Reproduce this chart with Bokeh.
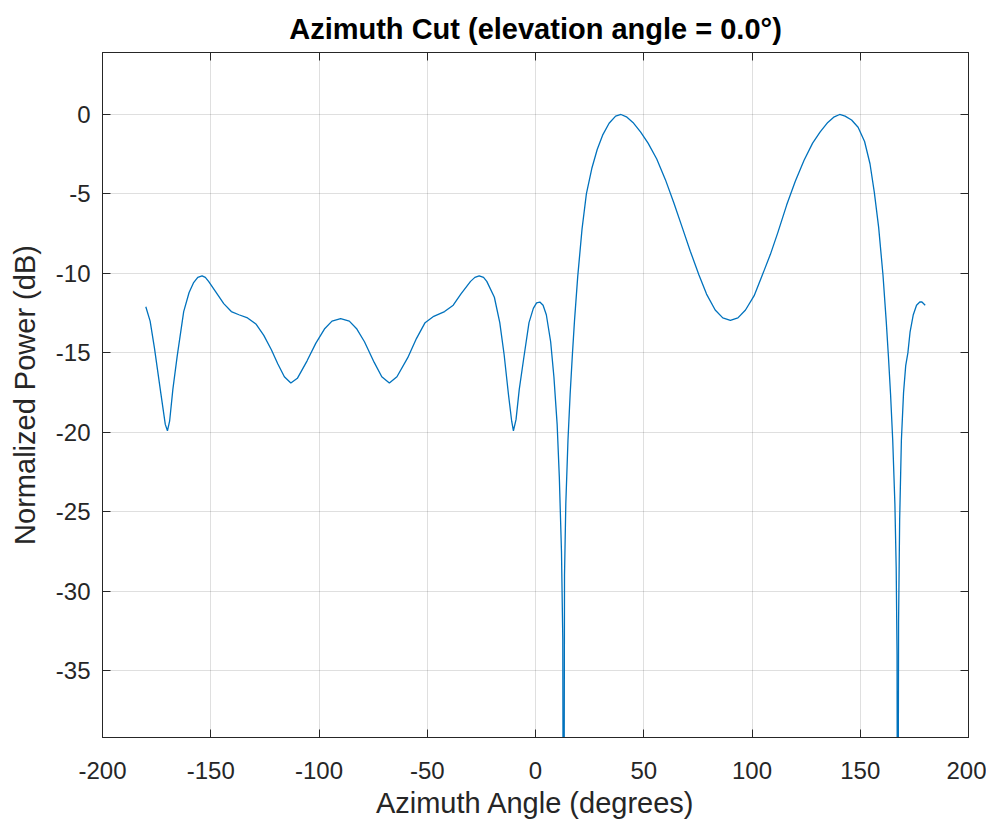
from bokeh.plotting import figure
from bokeh.models import Range1d, LinearAxis, FixedTicker, ColumnDataSource
from bokeh.embed import file_html
from bokeh.resources import INLINE

# Azimuth angle (degrees) and normalized power (dB)
azimuth = [
    -180, -178, -176, -173, -171, -170, -169, -167.5, -165.5, -162.5, -160, -158,
    -156, -154, -152.5, -151, -148, -144, -140.5, -137, -133, -129, -125.5, -122, -119, -116,
    -113, -110, -105.5, -101.5, -97.5, -94, -90, -86, -82.5, -79, -74.5, -71,
    -67.5, -64, -59, -55, -51, -47, -42, -38, -34.5, -30, -28, -26, -24, -22.5, -19, -16.5,
    -14.5, -12.5, -11, -10.2, -9, -7.5, -5.5, -3, -1, 0.5, 2, 3.5, 5, 7, 8.5, 10,
    11, 12, 12.6, 13.0, 13.4, 14, 15, 16, 17, 18, 19.5, 21.5, 23.5, 26, 28.5, 31, 34,
    37, 39.5, 42, 45, 48.5, 52, 56, 60, 64, 68, 71.5, 75.5, 79, 83, 86.5, 90,
    93.5, 97, 101, 104.5, 108.5, 112, 116, 120, 124, 128, 131.5, 135, 138, 140.5,
    143, 146, 149, 152, 154.5, 156.5, 158.5, 160.5, 162, 163, 164, 165, 166, 166.6,
    167.0, 167.3, 167.7, 168.2, 169, 170, 171, 172, 173, 174.5, 176, 177.5, 178.5, 180,
]
power_db = [
    -12.1, -13.0, -14.7, -17.6, -19.5, -19.9, -19.3, -17.3, -15.2, -12.4, -11.2, -10.6,
    -10.25, -10.15, -10.25, -10.5, -11.1, -11.9, -12.4, -12.6, -12.8, -13.2, -13.9, -14.8, -15.7, -16.5,
    -16.9, -16.6, -15.5, -14.4, -13.5, -13.0, -12.85, -13.0, -13.5, -14.3, -15.6, -16.5,
    -16.9, -16.5, -15.3, -14.1, -13.1, -12.7, -12.4, -12.0, -11.3, -10.5, -10.25, -10.15, -10.25, -10.5, -11.5, -13.1,
    -15.1, -17.6, -19.3, -19.9, -19.2, -17.3, -15.4, -13.1, -12.2, -11.85, -11.8, -12.0, -12.6, -14.3, -16.5, -19.5,
    -22.8, -27.5, -33.0, -60.0, -29.0, -24.5, -20.5, -17.6, -15.2, -13.0, -10.2, -7.2, -5.0, -3.4, -2.2, -1.3, -0.55,
    -0.1, 0.0, -0.15, -0.5, -1.1, -1.8, -2.8, -4.1, -5.6, -7.2, -8.6, -10.1, -11.3, -12.3, -12.8, -12.95,
    -12.8, -12.3, -11.4, -10.2, -8.8, -7.4, -5.7, -4.2, -2.9, -1.8, -1.1, -0.5, -0.15, 0.0,
    -0.1, -0.35, -0.8, -1.7, -3.1, -4.9, -7.1, -10.1, -13.0, -15.2, -17.6, -20.5, -24.5, -28.5,
    -34.0, -60.0, -32.0, -25.5, -20.5, -17.5, -15.8, -15.0, -13.7, -12.6, -12.0, -11.8, -11.8, -12.0,
]

x_ticks = [-200, -150, -100, -50, 0, 50, 100, 150, 200]
y_ticks = [-35, -30, -25, -20, -15, -10, -5, 0]

title_text = "Azimuth Cut (elevation angle = 0.0°)"
x_label = "Azimuth Angle (degrees)"
y_label = "Normalized Power (dB)"

AX = "#262626"
FONT = "Liberation Sans"

p = figure(
    output_backend="svg", toolbar_location=None,
    frame_width=866, frame_height=685,
    min_border_left=102, min_border_right=18, min_border_top=52, min_border_bottom=69,
    x_range=Range1d(-200, 200), y_range=Range1d(-39.2, 3.9),
    title=title_text,
)
p.background_fill_color = "white"
p.border_fill_color = "white"
p.outline_line_color = AX
p.outline_line_width = 1

p.title.align = "center"
p.title.text_font = FONT
p.title.text_font_size = "29px"
p.title.text_font_style = "bold"
p.title.text_color = "#000000"
p.title.standoff = 15

src = ColumnDataSource(dict(az=azimuth, pw=power_db))
p.line("az", "pw", source=src, line_color="#0072BD", line_width=1.3)

for ax, ticks in ((p.xaxis[0], x_ticks), (p.yaxis[0], y_ticks)):
    ax.ticker = FixedTicker(ticks=ticks)
    ax.major_label_overrides = {t: str(t) for t in ticks}
    ax.axis_line_color = AX
    ax.major_tick_line_color = AX
    ax.major_tick_in = 8
    ax.major_tick_out = 0
    ax.minor_tick_line_color = None
    ax.major_label_text_font = FONT
    ax.major_label_text_font_size = "24px"
    ax.major_label_text_color = AX
    ax.axis_label_text_font = FONT
    ax.axis_label_text_font_size = "29px"
    ax.axis_label_text_font_style = "normal"
    ax.axis_label_text_color = AX

p.xaxis[0].axis_label = x_label
p.yaxis[0].axis_label = y_label
p.xaxis[0].major_label_standoff = 24
p.yaxis[0].major_label_standoff = 12
p.xaxis[0].axis_label_standoff = 5
p.yaxis[0].axis_label_standoff = 12

for loc, ticks in (("above", x_ticks), ("right", y_ticks)):
    a = LinearAxis(ticker=FixedTicker(ticks=ticks))
    a.axis_line_color = AX
    a.major_tick_line_color = AX
    a.major_tick_in = 8
    a.major_tick_out = 0
    a.minor_tick_line_color = None
    a.major_label_text_color = None
    a.major_label_text_font_size = "1px"
    a.major_label_standoff = 0
    p.add_layout(a, loc)

p.xgrid.ticker = FixedTicker(ticks=x_ticks)
p.ygrid.ticker = FixedTicker(ticks=y_ticks)
p.grid.grid_line_color = AX
p.grid.grid_line_alpha = 0.15

open("out.html", "w").write(file_html(p, INLINE))
